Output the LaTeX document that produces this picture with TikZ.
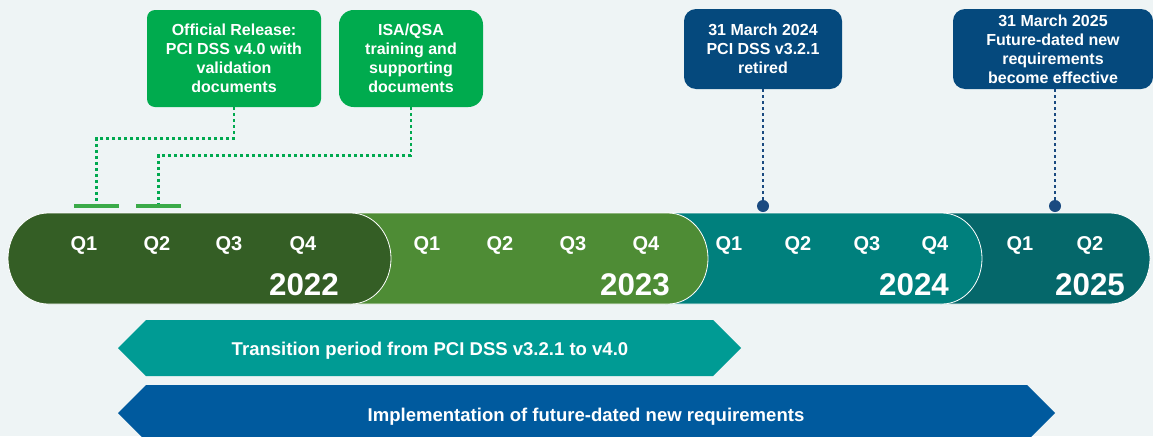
\documentclass[tikz,border=0pt]{standalone}
\usepackage{fontspec}
\setmainfont{Liberation Sans}
\definecolor{bg}{HTML}{EEF4F5}
\definecolor{c22}{HTML}{345E25}
\definecolor{c23}{HTML}{4E8C35}
\definecolor{c24}{HTML}{00807D}
\definecolor{c25}{HTML}{05676A}
\definecolor{gboxc}{HTML}{00AB4E}
\definecolor{nboxc}{HTML}{05497D}
\definecolor{gline}{HTML}{3AAA48}
\definecolor{gdotc}{HTML}{00A94F}
\definecolor{nline}{HTML}{1A4A80}
\definecolor{transc}{HTML}{009B94}
\definecolor{implc}{HTML}{005A9E}
\begin{document}
\begin{tikzpicture}[x=0.75pt,y=-0.75pt,
  boxtext/.style={text=white,font=\fontsize{12}{14.25}\selectfont\bfseries,align=center,inner sep=0pt},
  gbox/.style={boxtext,fill=gboxc},
  nbox/.style={boxtext,fill=nboxc},
  qlab/.style={text=white,font=\fontsize{15}{18}\selectfont\bfseries,anchor=base,inner sep=0pt},
  ylab/.style={text=white,font=\fontsize{23.5}{28}\selectfont\bfseries,anchor=base,inner sep=0pt},
  alab/.style={text=white,font=\fontsize{13.9}{16}\selectfont\bfseries,anchor=base,inner sep=0pt},
  bar/.style={fill=gline,minimum width=33.75pt,minimum height=3pt,inner sep=0pt},
  gdot/.style={gdotc,line width=2.2pt,dash pattern=on 2.2pt off 2.3pt},
  ndot/.style={nline,line width=1.9pt,dash pattern=on 1.9pt off 2.6pt},
  ndotc/.style={circle,fill=nline,minimum size=9pt,inner sep=0pt},
  seg/.style={draw=white,line width=0.6pt}
]
\useasboundingbox (0,0) rectangle (1153,436);
\fill[bg] (0,0) rectangle (1153,436);

% timeline band segments (right to left)
\filldraw[seg,fill=c25] (940,213) -- (1110,213) arc[start angle=-90,end angle=90,x radius=40,y radius=45.5] -- (940,304) -- cycle;
\filldraw[seg,fill=c24] (665,213) -- (942,213) arc[start angle=-90,end angle=90,x radius=40,y radius=45.5] -- (665,304) -- cycle;
\filldraw[seg,fill=c23] (350,213) -- (668,213) arc[start angle=-90,end angle=90,x radius=40,y radius=45.5] -- (350,304) -- cycle;
\filldraw[seg,fill=c22] (48,304) arc[start angle=90,end angle=270,x radius=40,y radius=45.5] -- (351,213) arc[start angle=-90,end angle=90,x radius=40,y radius=45.5] -- cycle;

% quarter labels
\foreach \x/\n in {84/1,157/2,229/3,303/4} \node[qlab] (qa\n) at (\x,250) {Q\n};
\foreach \x/\n in {427/1,500/2,573/3,646/4} \node[qlab] (qb\n) at (\x,250) {Q\n};
\foreach \x/\n in {729/1,798/2,867/3,935/4} \node[qlab] (qc\n) at (\x,250) {Q\n};
\foreach \x/\n in {1020/1,1090/2} \node[qlab] (qd\n) at (\x,250) {Q\n};

% year labels
\node[ylab] (y22) at (304,295) {2022};
\node[ylab] (y23) at (635,295) {2023};
\node[ylab] (y24) at (914,295) {2024};
\node[ylab] (y25) at (1090,295) {2025};

% green boxes
\node[gbox,minimum width=130.5pt,minimum height=72.75pt,rounded corners=6pt] (rel) at (234,58.5)
  {Official Release:\\PCI DSS v4.0 with\\validation\\documents};
\node[gbox,minimum width=108pt,minimum height=72.75pt,rounded corners=11pt] (isa) at (411,58.5)
  {ISA/QSA\\training and\\supporting\\documents};

% bars
\node[bar] (bar1) at (96.5,206) {};
\node[bar] (bar2) at (158.5,206) {};

\draw[gdot] (rel.south) -- ++(0,31) -| (bar1.north);
\draw[gdot] (isa.south) -- ++(0,48) -| (bar2.north);

% navy boxes
\node[nbox,minimum width=118.5pt,minimum height=60pt,rounded corners=9pt] (ret) at (763,49)
  {31 March 2024\\PCI DSS v3.2.1\\retired};
\node[nbox,minimum width=150pt,minimum height=60pt,rounded corners=9pt] (eff) at (1053,49)
  {31 March 2025\\Future-dated new\\requirements\\become effective};

\node[ndotc] (d1) at (763,206) {};
\node[ndotc] (d2) at (1055,206) {};
\draw[ndot] (ret.south) -- (d1.north);
\draw[ndot] (eff.south -| d2) -- (d2.north);

% arrows
\fill[transc] (118,348) -- (146,320) -- (713,320) -- (741,348) -- (713,376) -- (146,376) -- cycle;
\node[alab] (trans) at (430,355) {Transition period from PCI DSS v3.2.1 to v4.0};
\fill[implc] (118,413) -- (146,385) -- (1027,385) -- (1055,413) -- (1027,441) -- (146,441) -- cycle;
\node[alab] (impl) at (586,421) {Implementation of future-dated new requirements};
\end{tikzpicture}
\end{document}
